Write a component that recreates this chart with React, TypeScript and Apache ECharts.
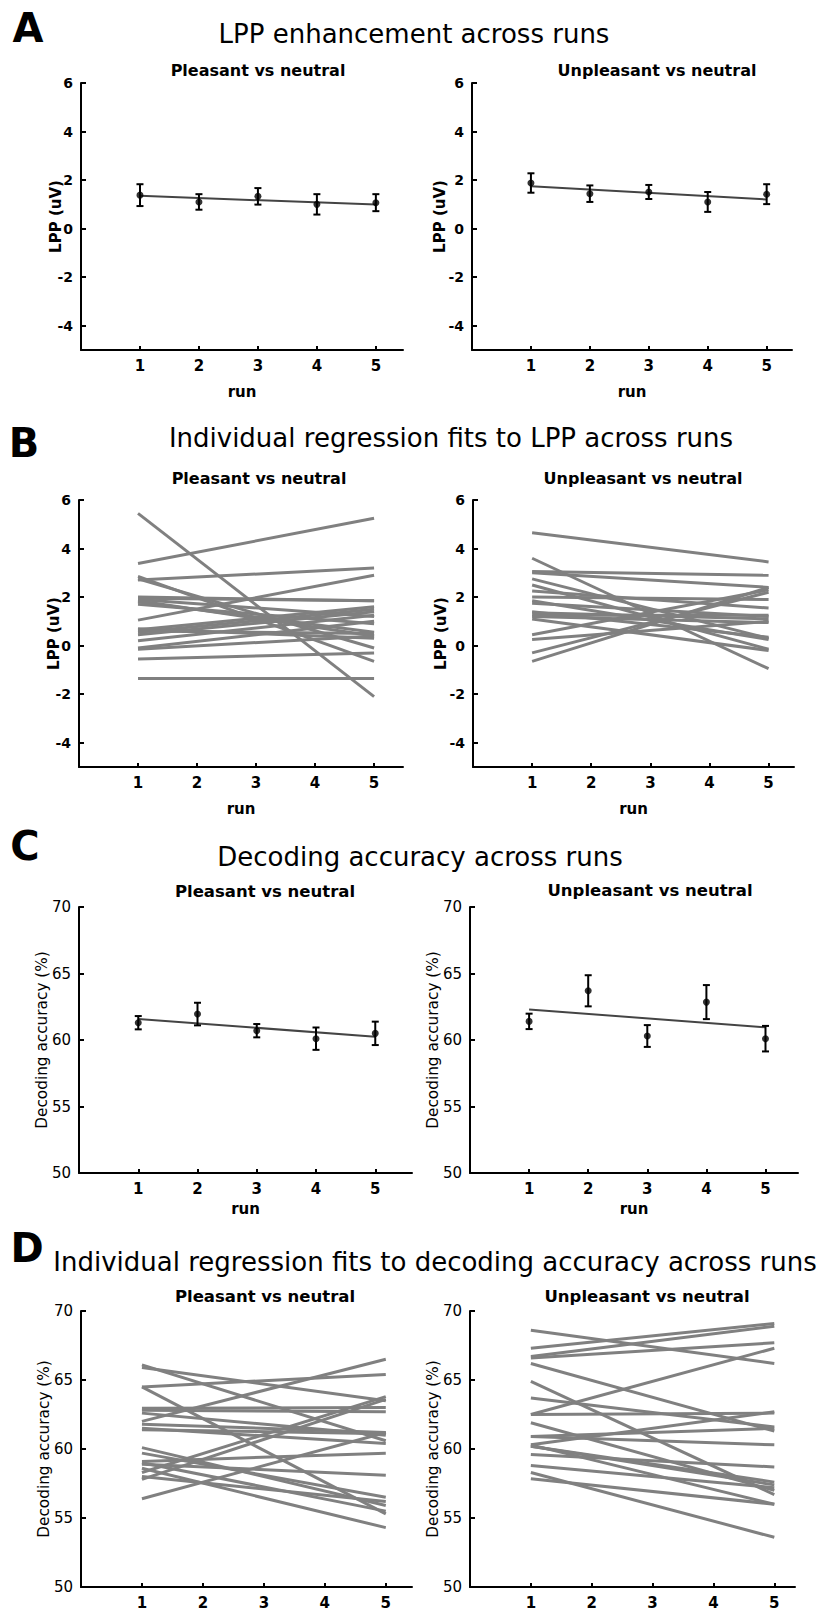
import React, { useEffect, useRef } from "react";
import * as echarts from "echarts";

// ---------------- data ----------------
const runs = [1, 2, 3, 4, 5];
const xTicks = [1, 2, 3, 4, 5];
const lppTicks = [-4, -2, 0, 2, 4, 6];
const accTicks = [50, 55, 60, 65, 70];

// Panel A: LPP enhancement (mean, SE), regression fit endpoints (run 1, run 5)
const lppPleasantMean = [1.38, 1.1, 1.33, 1.0, 1.07];
const lppPleasantErr = [0.45, 0.32, 0.34, 0.42, 0.35];
const lppPleasantFit = [1.35, 0.99];
const lppUnpleasantMean = [1.88, 1.44, 1.51, 1.1, 1.42];
const lppUnpleasantErr = [0.4, 0.34, 0.29, 0.41, 0.41];
const lppUnpleasantFit = [1.75, 1.2];

// Panel B: individual regression fits (value at run 1, value at run 5)
const indLppPleasantStart = [5.45, 3.38, 2.7, 1.05, 2.85, 2.75, 2.0, 1.95, 1.85, 1.8, 1.9, 1.7, 0.65, 0.55, 0.45, 0.2, -0.1, -0.15, -0.55, -1.35, 0.6, 0.7];
const indLppPleasantEnd = [-2.1, 5.25, 3.2, 2.9, -0.65, -0.1, 1.85, 1.85, 0.4, 0.55, 1.2, 0.9, 1.6, 1.5, 1.4, 1.25, 1.0, 0.4, -0.3, -1.35, 0.5, 0.3];
const indLppUnpleasantStart = [4.65, 3.6, 3.05, 3.0, 2.75, 2.5, 2.25, 2.0, 1.85, 1.75, 1.35, 1.2, 1.1, 0.45, 0.25, -0.3, -0.65, 1.25, 1.4];
const indLppUnpleasantEnd = [3.45, -0.95, 2.9, 2.4, 0.3, -0.15, 1.55, 1.9, 0.25, 1.2, 1.1, 0.95, -0.2, 2.3, 1.0, 2.2, 2.4, 1.25, 0.35];

// Panel C: decoding accuracy (mean, SE), regression fit endpoints
const accPleasantMean = [61.3, 61.95, 60.7, 60.1, 60.5];
const accPleasantErr = [0.5, 0.85, 0.5, 0.84, 0.88];
const accPleasantFit = [61.58, 60.25];
const accUnpleasantMean = [61.4, 63.7, 60.3, 62.85, 60.1];
const accUnpleasantErr = [0.58, 1.17, 0.82, 1.28, 0.96];
const accUnpleasantFit = [62.3, 60.95];

// Panel D: individual regression fits to decoding accuracy
const indAccPleasantStart = [66.1, 65.9, 64.5, 64.5, 62.0, 62.95, 62.8, 62.6, 61.8, 61.5, 61.4, 60.1, 59.7, 59.1, 58.9, 58.3, 58.0, 57.8, 58.6, 56.4, 59.0];
const indAccPleasantEnd = [60.6, 63.5, 65.4, 55.3, 66.5, 63.0, 62.7, 61.0, 61.2, 60.4, 61.1, 55.9, 56.5, 59.7, 58.1, 63.8, 56.2, 63.6, 54.3, 61.2, 55.5];
const indAccUnpleasantStart = [68.6, 67.3, 66.7, 66.6, 62.5, 66.2, 64.9, 63.7, 62.5, 61.9, 60.9, 60.9, 60.3, 60.2, 60.2, 59.6, 58.8, 58.3, 57.85, 60.3];
const indAccUnpleasantEnd = [66.2, 69.1, 68.9, 67.7, 67.3, 61.3, 56.7, 61.6, 62.6, 57.0, 60.3, 61.5, 62.7, 57.6, 57.4, 58.7, 57.2, 53.6, 56.0, 56.0];

const panelTitles = [
  "LPP enhancement across runs",
  "Individual regression fits to LPP across runs",
  "Decoding accuracy across runs",
  "Individual regression fits to decoding accuracy across runs",
];
const panelLetters = ["A", "B", "C", "D"];
const subTitles = ["Pleasant vs neutral", "Unpleasant vs neutral"];
const xName = "run";
const lppName = "LPP (uV)";
const accName = "Decoding accuracy (%)";

// ---------------- layout ----------------
const W = 821;
const H = 1612;
const DJ = "DejaVu Sans";

type Layout = {
  left: number; top: number; width: number; height: number; xMax: number;
  kind: "lpp" | "acc"; nameGap: number; showRun: boolean;
};
const layouts: Layout[] = [
  { left: 81, top: 83, width: 322, height: 267, xMax: 5.46, kind: "lpp", nameGap: 18, showRun: true },
  { left: 472, top: 83, width: 320, height: 267, xMax: 5.43, kind: "lpp", nameGap: 25, showRun: true },
  { left: 79, top: 500, width: 324, height: 267, xMax: 5.49, kind: "lpp", nameGap: 18, showRun: true },
  { left: 473, top: 500, width: 321, height: 267, xMax: 5.43, kind: "lpp", nameGap: 25, showRun: true },
  { left: 79, top: 907, width: 333, height: 266, xMax: 5.62, kind: "acc", nameGap: 30, showRun: true },
  { left: 470, top: 907, width: 328, height: 266, xMax: 5.55, kind: "acc", nameGap: 30, showRun: true },
  { left: 81, top: 1311, width: 331, height: 276, xMax: 5.43, kind: "acc", nameGap: 30, showRun: false },
  { left: 470, top: 1311, width: 325, height: 276, xMax: 5.34, kind: "acc", nameGap: 30, showRun: false },
];

const titlePos = [
  { x: 414, y: 34 }, { x: 451, y: 438 }, { x: 420, y: 857 }, { x: 435, y: 1262 },
];
const letterPos = [
  { x: 28, y: 28 }, { x: 24, y: 443 }, { x: 25, y: 846 }, { x: 27, y: 1248 },
];
const subPos = [
  { x: 258, y: 70 }, { x: 657, y: 70 }, { x: 259, y: 478 }, { x: 643, y: 478 },
  { x: 265, y: 891 }, { x: 650, y: 890 }, { x: 265, y: 1296 }, { x: 647, y: 1296 },
];

function errorBarData(mean: number[], err: number[]) {
  return runs.map((r, i) => [r, mean[i] - err[i], mean[i] + err[i]]);
}

const renderErr = (params: any, api: any) => {
  const x = api.value(0);
  const p1 = api.coord([x, api.value(1)]);
  const p2 = api.coord([x, api.value(2)]);
  const hw = 3.5;
  const st = { stroke: "#000", lineWidth: 2 };
  return {
    type: "group",
    children: [
      { type: "line", shape: { x1: p1[0], y1: p1[1], x2: p2[0], y2: p2[1] }, style: st },
      { type: "line", shape: { x1: p1[0] - hw, y1: p1[1], x2: p1[0] + hw, y2: p1[1] }, style: st },
      { type: "line", shape: { x1: p2[0] - hw, y1: p2[1], x2: p2[0] + hw, y2: p2[1] }, style: st },
    ],
  };
};

function buildOption() {
  const grid: any[] = [];
  const xAxis: any[] = [];
  const yAxis: any[] = [];
  const series: any[] = [];
  const graphic: any[] = [];

  layouts.forEach((L, i) => {
    const isLpp = L.kind === "lpp";
    grid.push({ left: L.left, top: L.top, width: L.width, height: L.height, containLabel: false, outerBoundsMode: "none" });
    xAxis.push({
      type: "value", gridIndex: i, min: 0, max: L.xMax,
      name: L.showRun ? xName : "", nameLocation: "middle", nameGap: isLpp ? 34 : 28,
      nameMoveOverlap: false,
      nameTextStyle: { fontFamily: DJ, fontWeight: "bold", fontSize: 15, color: "#000" },
      axisLine: { show: true, onZero: false, lineStyle: { color: "#000", width: 2 } },
      axisTick: { show: true, inside: true, length: 4, customValues: xTicks, lineStyle: { color: "#000", width: 2 } },
      axisLabel: { show: true, customValues: xTicks, margin: 8, fontFamily: DJ, fontWeight: "bold", fontSize: 15, color: "#000" },
      splitLine: { show: false },
    });
    yAxis.push({
      type: "value", gridIndex: i,
      min: isLpp ? -5 : 50, max: isLpp ? 6 : 70,
      name: isLpp ? lppName : accName, nameLocation: "middle", nameGap: L.nameGap,
      nameMoveOverlap: false,
      nameTextStyle: isLpp
        ? { fontFamily: DJ, fontWeight: "bold", fontSize: 15, color: "#000" }
        : { fontFamily: DJ, fontWeight: "normal", fontSize: 15.3, color: "#000" },
      axisLine: { show: true, onZero: false, lineStyle: { color: "#000", width: 2 } },
      axisTick: { show: true, inside: true, length: 5, customValues: isLpp ? lppTicks : accTicks, lineStyle: { color: "#000", width: 2 } },
      axisLabel: isLpp
        ? { show: true, customValues: lppTicks, margin: 8, fontFamily: DJ, fontWeight: "bold", fontSize: 14, color: "#000" }
        : { show: true, customValues: accTicks, margin: 8, fontFamily: DJ, fontWeight: "normal", fontSize: 15, color: "#000" },
      splitLine: { show: false },
    });
  });

  const addMeanPanel = (gi: number, mean: number[], err: number[], fit: number[]) => {
    series.push({
      type: "line", xAxisIndex: gi, yAxisIndex: gi, data: [[1, fit[0]], [5, fit[1]]],
      symbol: "none", lineStyle: { color: "#444", width: 2 }, silent: true, z: 2,
    });
    series.push({
      type: "custom", xAxisIndex: gi, yAxisIndex: gi, renderItem: renderErr,
      data: errorBarData(mean, err), encode: { x: 0, y: [1, 2] }, silent: true, z: 3,
    });
    series.push({
      type: "scatter", xAxisIndex: gi, yAxisIndex: gi, data: runs.map((r, k) => [r, mean[k]]),
      symbol: "circle", symbolSize: 7, itemStyle: { color: "#000" }, silent: true, z: 4,
    });
  };
  const addIndPanel = (gi: number, start: number[], end: number[]) => {
    start.forEach((s, k) => {
      series.push({
        type: "line", xAxisIndex: gi, yAxisIndex: gi, data: [[1, s], [5, end[k]]],
        symbol: "none", lineStyle: { color: "#808080", width: 3 }, silent: true, z: 2,
      });
    });
  };

  addMeanPanel(0, lppPleasantMean, lppPleasantErr, lppPleasantFit);
  addMeanPanel(1, lppUnpleasantMean, lppUnpleasantErr, lppUnpleasantFit);
  addIndPanel(2, indLppPleasantStart, indLppPleasantEnd);
  addIndPanel(3, indLppUnpleasantStart, indLppUnpleasantEnd);
  addMeanPanel(4, accPleasantMean, accPleasantErr, accPleasantFit);
  addMeanPanel(5, accUnpleasantMean, accUnpleasantErr, accUnpleasantFit);
  addIndPanel(6, indAccPleasantStart, indAccPleasantEnd);
  addIndPanel(7, indAccUnpleasantStart, indAccUnpleasantEnd);

  const txt = (text: string, x: number, y: number, size: number, family: string, weight: string) => ({
    type: "text", x, y, silent: true,
    style: {
      text, fill: "#000", fontSize: size, fontFamily: family, fontWeight: weight,
      textAlign: "center", textVerticalAlign: "middle", align: "center", verticalAlign: "middle",
    },
  });

  panelLetters.forEach((l, i) => graphic.push(txt(l, letterPos[i].x, letterPos[i].y, 40, DJ, "bold")));
  panelTitles.forEach((t, i) => graphic.push(txt(t, titlePos[i].x, titlePos[i].y, 26, DJ, "normal")));
  subPos.forEach((p, i) => graphic.push(txt(subTitles[i % 2], p.x, p.y, i < 4 ? 16 : 16.5, DJ, "bold")));

  return {
    animation: false,
    backgroundColor: "#fff",
    grid, xAxis, yAxis, series, graphic,
  };
}

export default function App() {
  const ref = useRef<HTMLDivElement>(null);
  useEffect(() => {
    document.body.style.margin = "0";
    if (!ref.current) return;
    const chart = echarts.init(ref.current, null, { renderer: "svg", width: W, height: H });
    chart.setOption(buildOption() as any);
    return () => chart.dispose();
  }, []);
  return <div ref={ref} style={{ width: W, height: H, background: "#fff" }} />;
}
